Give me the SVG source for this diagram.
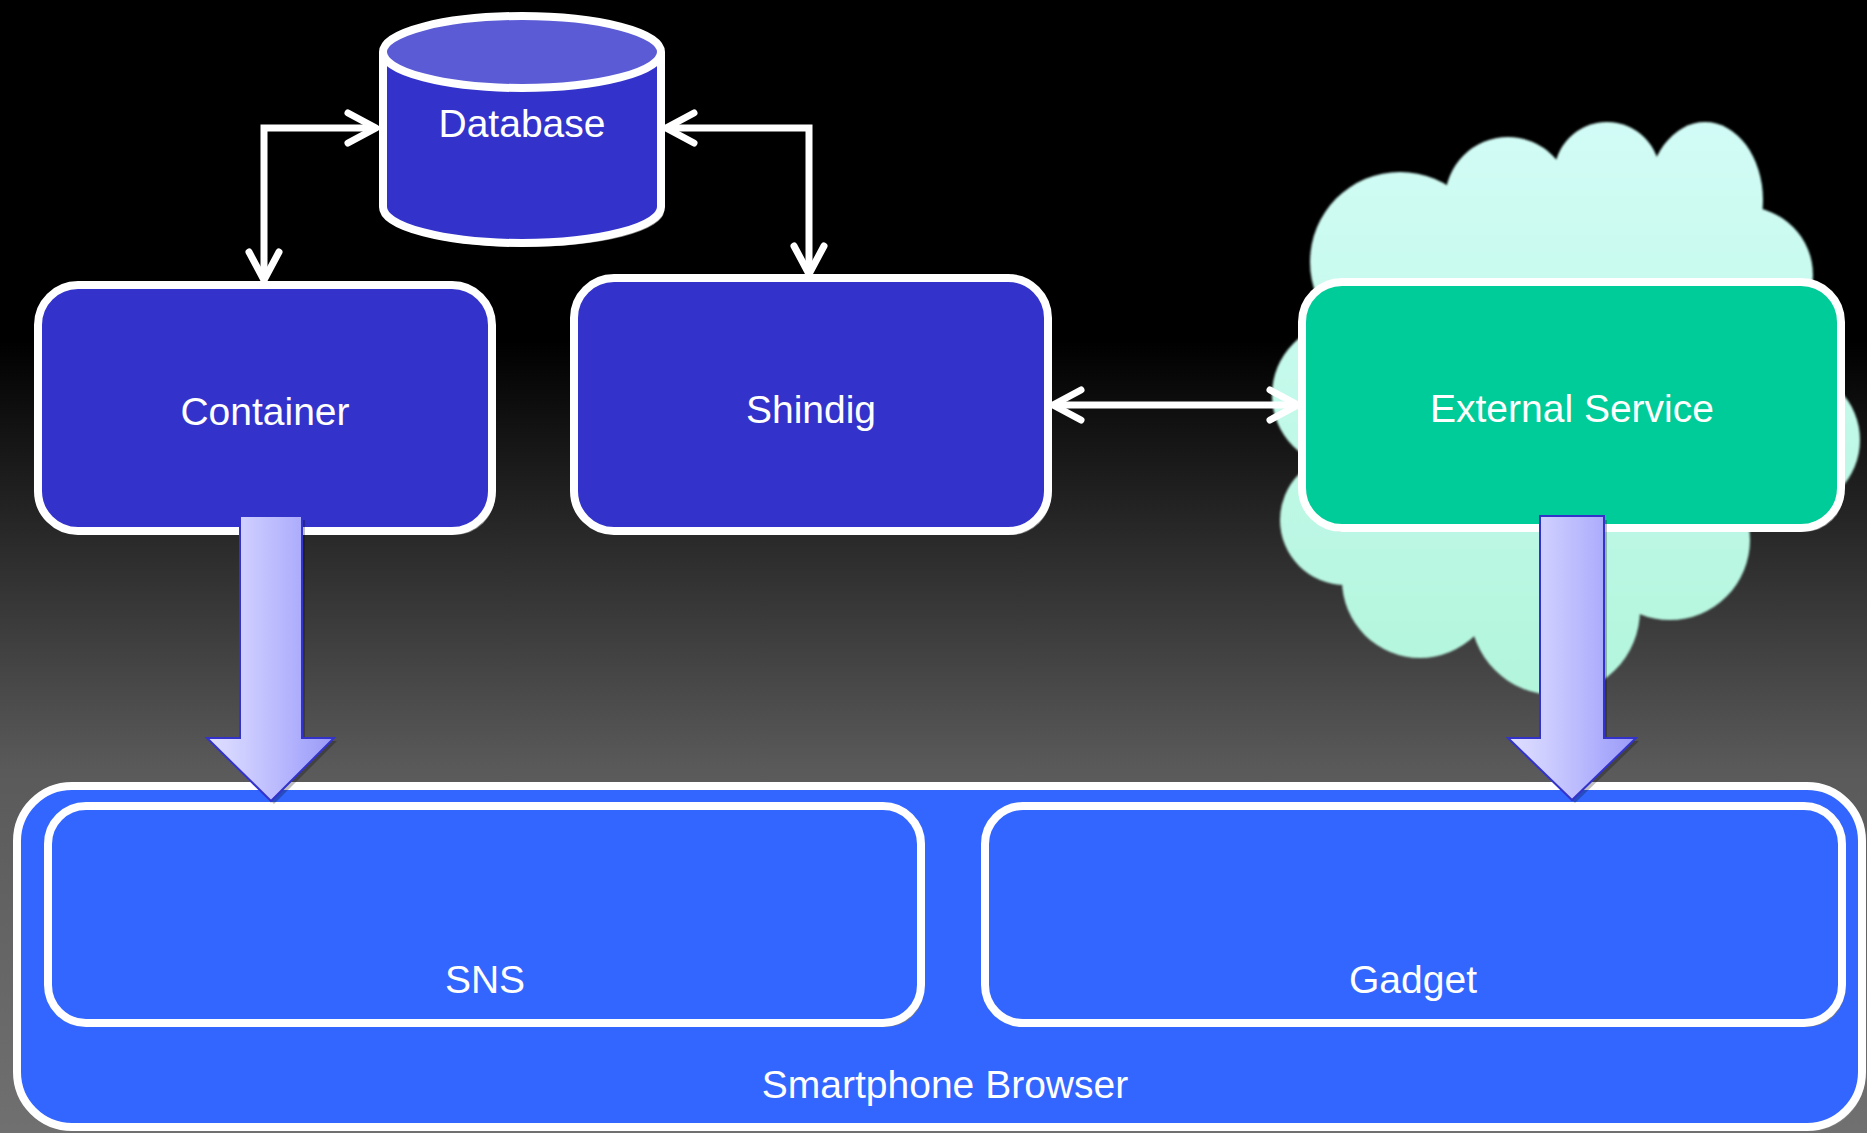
<svg xmlns="http://www.w3.org/2000/svg" width="1867" height="1133" viewBox="0 0 1867 1133">
<defs>
<linearGradient id="bg" x1="0" y1="0" x2="0" y2="1133" gradientUnits="userSpaceOnUse">
<stop offset="0" stop-color="#000"/>
<stop offset="0.3" stop-color="#000"/>
<stop offset="0.68" stop-color="#5a5a5a"/>
<stop offset="1" stop-color="#707070"/>
</linearGradient>
<linearGradient id="cloudg" x1="0" y1="120" x2="0" y2="700" gradientUnits="userSpaceOnUse">
<stop offset="0" stop-color="#d2fcf6"/>
<stop offset="1" stop-color="#b2f6dc"/>
</linearGradient>
<linearGradient id="bigarrow" x1="0" y1="0" x2="1" y2="0">
<stop offset="0" stop-color="#e0e0ff"/>
<stop offset="0.26" stop-color="#d0d0ff"/>
<stop offset="0.74" stop-color="#acacfd"/>
<stop offset="1" stop-color="#9a9af5"/>
</linearGradient>
<filter id="soft" x="-5%" y="-5%" width="110%" height="110%">
<feGaussianBlur stdDeviation="1.3"/>
</filter>
<marker id="chev" markerUnits="userSpaceOnUse" markerWidth="40" markerHeight="40" viewBox="0 0 40 40" refX="32" refY="20" orient="auto-start-reverse" overflow="visible">
<path d="M4,5 L32,20 L4,35" fill="none" stroke="#fff" stroke-width="7" stroke-linecap="round" stroke-linejoin="round"/>
</marker>
<style>
.box{stroke:#fff;stroke-width:8}
.shadow{fill:#7f7f7f}
.dark{fill:#3333cc}
.green{fill:#00cc99}
.light{fill:#3366ff}
.lbl{font-family:"Liberation Sans",Arial,sans-serif;font-size:39px;fill:#fff;text-anchor:middle}
.conn{fill:none;stroke:#fff;stroke-width:7;stroke-linejoin:miter;marker-start:url(#chev);marker-end:url(#chev)}
.big{fill:url(#bigarrow);stroke:#3333cc;stroke-width:2}
</style>
</defs>
<rect x="0" y="0" width="1867" height="1133" fill="url(#bg)"/>

<g id="cloud" fill="url(#cloudg)" filter="url(#soft)">
<circle cx="1400" cy="262" r="90"/>
<circle cx="1508" cy="200" r="63"/>
<circle cx="1607" cy="175" r="53"/>
<ellipse cx="1705" cy="200" rx="58" ry="78"/>
<circle cx="1745" cy="275" r="68"/>
<circle cx="1790" cy="440" r="70"/>
<circle cx="1670" cy="540" r="80"/>
<circle cx="1555" cy="610" r="85"/>
<circle cx="1420" cy="580" r="78"/>
<circle cx="1345" cy="520" r="65"/>
<circle cx="1345" cy="395" r="73"/>
<rect x="1345" y="200" width="405" height="300"/>
<rect x="1345" y="500" width="370" height="80"/>
</g>

<g id="browser">
<rect class="shadow" x="20" y="790" width="1845" height="341" rx="55"/>
<rect class="box light" x="17" y="786" width="1845" height="341" rx="55"/>
<text class="lbl" x="945" y="1098">Smartphone Browser</text>
</g>

<g id="sns">
<rect class="shadow" x="51" y="810" width="873" height="217" rx="38"/>
<rect class="box light" x="48" y="806" width="873" height="217" rx="38"/>
<text class="lbl" x="485" y="993">SNS</text>
</g>

<g id="gadget">
<rect class="shadow" x="988" y="810" width="857" height="217" rx="38"/>
<rect class="box light" x="985" y="806" width="857" height="217" rx="38"/>
<text class="lbl" x="1413" y="993">Gadget</text>
</g>

<g id="database">
<path class="shadow" d="M386,56 V211 A139,36 0 0 0 664,211 V56 Z"/>
<path class="box dark" d="M383,52 V207 A139,36 0 0 0 661,207 V52"/>
<ellipse class="box" cx="522" cy="52" rx="139" ry="36" fill="#5b5bd6"/>
<text class="lbl" x="522" y="137">Database</text>
</g>

<g id="container">
<rect class="shadow" x="41" y="289" width="454" height="246" rx="40"/>
<rect class="box dark" x="38" y="285" width="454" height="246" rx="40"/>
<text class="lbl" x="265" y="425">Container</text>
</g>

<g id="shindig">
<rect class="shadow" x="577" y="282" width="474" height="253" rx="40"/>
<rect class="box dark" x="574" y="278" width="474" height="253" rx="40"/>
<text class="lbl" x="811" y="423">Shindig</text>
</g>

<g id="external">
<rect class="shadow" x="1305" y="286" width="539" height="246" rx="40"/>
<rect class="box green" x="1302" y="282" width="539" height="246" rx="40"/>
<text class="lbl" x="1572" y="422">External Service</text>
</g>

<g id="connectors">
<path class="conn" d="M264,280 V128 H376"/>
<path class="conn" d="M666,128 H809 V274"/>
<path class="conn" d="M1053,405 H1298"/>
<path d="M243,520 H305 V741 H337 L274,804 L210,741 H243 Z" fill="#000" opacity="0.25"/>
<path class="big" d="M240,516 H302 V738 H334 L271,801 L207,738 H240 Z"/>
<path d="M1543,520 H1607 V741 H1639 L1575,803 L1511,741 H1543 Z" fill="#000" opacity="0.25"/>
<path class="big" d="M1540,516 H1604 V738 H1636 L1572,800 L1508,738 H1540 Z"/>
</g>
</svg>
